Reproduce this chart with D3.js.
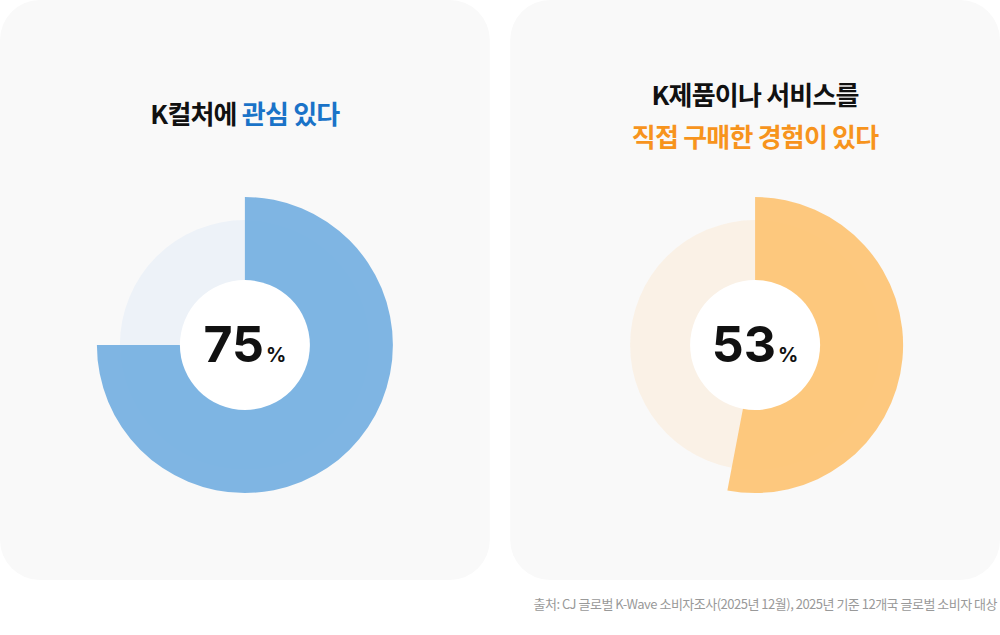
<!DOCTYPE html>
<html><head><meta charset="utf-8">
<script src="https://cdn.jsdelivr.net/npm/d3@7"></script>
<style>body{margin:0;background:#fff;font-family:"Noto Sans CJK KR","Noto Sans",sans-serif}</style>
</head><body>
<svg id="c" width="1000" height="635"></svg>
<script>
const values = [75, 53];
const titles = [
  [[["K컬처에 ", "#111"], ["관심 있다", "#1a73c8"]]],
  [[["K제품이나 서비스를", "#111"]], [["직접 구매한 경험이 있다", "#f7941d"]]]
];
const arcColors = ["#78b1e2", "#fdc577"];
const ringColors = ["#edf2f8", "#faf1e6"];
const source = "출처: CJ 글로벌 K-Wave 소비자조사(2025년 12월),  2025년 기준 12개국 글로벌 소비자 대상";

const svg = d3.select("#c");
const cardX = d3.scaleBand().domain(d3.range(values.length)).range([0, 1000]).paddingInner(0.04);
const angle = d3.scaleLinear().domain([0, 100]).range([0, 2 * Math.PI]);

values.forEach((v, i) => {
  const x0 = cardX(i), w = cardX.bandwidth();
  svg.append("rect").attr("x", x0).attr("y", 0).attr("width", w).attr("height", 580)
    .attr("rx", 40).attr("fill", "#f9f9f9");
  const cx = x0 + w / 2, cy = 345;
  const lines = titles[i];
  const startY = lines.length === 1 ? 124 : 105;
  lines.forEach((ln, j) => {
    const t = svg.append("text").attr("x", cx).attr("y", startY + j * 42)
      .attr("text-anchor", "middle").attr("font-size", 26).attr("font-weight", 700)
      .attr("letter-spacing", -0.8);
    ln.forEach(([s, c]) => t.append("tspan").attr("fill", c).text(s));
  });
  const g = svg.append("g").attr("transform", `translate(${cx},${cy})`);
  g.append("circle").attr("r", 125).attr("fill", ringColors[i]);
  g.append("path").attr("d", d3.arc().innerRadius(0).outerRadius(148).startAngle(0).endAngle(angle(v))())
    .attr("fill", arcColors[i]).attr("opacity", 0.95);
  g.append("circle").attr("r", 65).attr("fill", "#fff");
  const t = g.append("text").attr("text-anchor", "middle").attr("y", 17).attr("font-family", "Inter, sans-serif");
  t.append("tspan").attr("font-size", 50).attr("font-weight", 700).attr("fill", "#111").text(v);
  t.append("tspan").attr("font-size", 20).attr("font-weight", 700).attr("fill", "#111").attr("dx", 2).text("%");
});

svg.append("text").attr("x", 997).attr("y", 609).attr("text-anchor", "end")
  .attr("font-size", 13).attr("fill", "#999").attr("letter-spacing", -0.5).text(source);
</script>
</body></html>
